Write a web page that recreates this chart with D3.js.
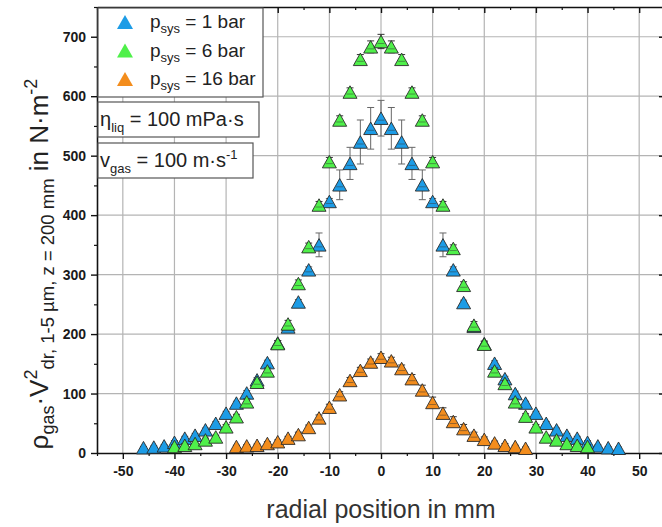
<!DOCTYPE html>
<html>
<head>
<meta charset="utf-8">
<script src="https://cdn.jsdelivr.net/npm/d3@7"></script>
<style>
  body { margin: 0; background: #fff; }
  svg { font-family: Arial, "Liberation Sans", sans-serif; }
</style>
</head>
<body>
<svg id="svg"></svg>
<script>
const width = 662, height = 527;

// radial positions in mm
const posBlue = [-46, -44, -42, -40, -38, -36, -34, -32, -30, -28, -26, -24, -22, -20, -18, -16, -14, -12, -10, -8, -6, -4, -2, 0,
    2, 4, 6, 8, 10, 12, 14, 16, 18, 20, 22, 24, 26, 28, 30, 32, 34, 36, 38, 40, 42, 44, 46];
const posGreen = [-40, -38, -36, -34, -32, -30, -28, -26, -24, -22, -20, -18, -16, -14, -12, -10, -8, -6, -4, -2, 0,
    2, 4, 6, 8, 10, 12, 14, 16, 18, 20, 22, 24, 26, 28, 30, 32, 34, 36, 38, 40];
const posOrange = [-28, -26, -24, -22, -20, -18, -16, -14, -12, -10, -8, -6, -4, -2, 0,
    2, 4, 6, 8, 10, 12, 14, 16, 18, 20, 22, 24, 26, 28];

// p_sys = 1 bar
const valBlue = [9, 10, 12, 18, 25, 30, 39, 50, 67, 84, 101, 123, 152, 185, 212, 254, 308, 350, 423, 451, 487, 523, 546, 563,
    546, 523, 487, 451, 423, 350, 308, 253, 213, 184, 151, 125, 100, 84, 67, 50, 39, 30, 25, 18, 12, 9, 8];
const errBlue = [2, 2, 2, 3, 3, 3, 3, 3, 3, 3, 4, 4, 4, 4, 4, 4, 5, 20, 5, 25, 27, 37, 35, 30,
    35, 37, 27, 25, 5, 20, 5, 4, 4, 4, 4, 4, 4, 3, 3, 3, 3, 3, 3, 3, 2, 2, 2];
// p_sys = 6 bar
const valGreen = [11, 13, 16, 22, 27, 44, 61, 86, 119, 138, 184, 217, 285, 347, 417, 490, 560, 607, 662, 683, 692,
    683, 662, 607, 560, 490, 417, 344, 282, 215, 183, 138, 117, 86, 62, 44, 27, 22, 16, 13, 11];
const errGreen = [3, 3, 3, 3, 3, 4, 4, 5, 5, 5, 5, 6, 6, 6, 6, 7, 7, 7, 8, 10, 12,
    10, 8, 7, 7, 7, 6, 6, 6, 6, 5, 5, 5, 5, 4, 4, 3, 3, 3, 3, 3];
// p_sys = 16 bar
const valOrange = [11, 12, 13, 16, 19, 25, 31, 43, 59, 77, 98, 122, 139, 153, 161,
    155, 142, 125, 106, 85, 67, 53, 41, 30, 23, 17, 13, 11, 8];
const errOrange = [2, 2, 2, 3, 3, 3, 4, 4, 5, 5, 5, 5, 5, 5, 6,
    6, 6, 7, 8, 9, 9, 8, 7, 5, 4, 3, 3, 2, 2];

const xTicks = [-50, -40, -30, -20, -10, 0, 10, 20, 30, 40, 50];
const yTicks = [0, 100, 200, 300, 400, 500, 600, 700];

const series = [
    { name: "1 bar", pos: posBlue, val: valBlue, err: errBlue, fill: "#1d9ce6", bar: "#666" },
    { name: "6 bar", pos: posGreen, val: valGreen, err: errGreen, fill: "#4ff04a", bar: "#333" },
    { name: "16 bar", pos: posOrange, val: valOrange, err: errOrange, fill: "#f38d1d", bar: "#333" }
];

const plot = { left: 97, right: 665, top: 7, bottom: 453 };

const x = d3.scaleLinear().domain([-55, 55]).range([plot.left, plot.right]);
const y = d3.scaleLinear().domain([0, 750]).range([plot.bottom, plot.top]);

const svg = d3.select("#svg").attr("width", width).attr("height", height);

// grid
svg.append("g").selectAll("line")
    .data(xTicks)
    .enter().append("line")
    .attr("x1", d => x(d)).attr("x2", d => x(d))
    .attr("y1", plot.top).attr("y2", plot.bottom)
    .style("stroke", "#b4b4b4").style("stroke-width", 1.2);
svg.append("g").selectAll("line")
    .data(yTicks.slice(1))
    .enter().append("line")
    .attr("x1", plot.left).attr("x2", plot.right)
    .attr("y1", d => y(d)).attr("y2", d => y(d))
    .style("stroke", "#b4b4b4").style("stroke-width", 1.2);

// axes
const minorX = d3.range(-55, 56, 5).filter(d => d % 10 !== 0);
const minorY = d3.range(50, 751, 100);
const plain = d => String(d);

function styleAxis(g) {
    g.select(".domain").style("stroke", "#111").style("stroke-width", 1.6);
    g.selectAll(".tick line").style("stroke", "#111").style("stroke-width", 1.4);
    g.selectAll(".tick text")
        .style("font-size", "14px").style("font-weight", "bold").style("fill", "#1a1a1a");
}

function minor(g, gen) {
    g.call(gen).call(a => a.select(".domain").remove())
        .selectAll("line").style("stroke", "#111").style("stroke-width", 1.2);
}

const bottomAxis = svg.append("g")
    .attr("transform", `translate(0,${plot.bottom})`)
    .call(d3.axisBottom(x).tickValues(xTicks).tickFormat(plain).tickSize(6).tickPadding(6).tickSizeOuter(0));
styleAxis(bottomAxis);
bottomAxis.selectAll(".tick text").attr("dy", "0.75em");
minor(svg.append("g").attr("transform", `translate(0,${plot.bottom})`),
    d3.axisBottom(x).tickValues(minorX).tickSize(3).tickFormat("").tickSizeOuter(0));

const topAxis = svg.append("g")
    .attr("transform", `translate(0,${plot.top})`)
    .call(d3.axisBottom(x).tickValues(xTicks).tickSize(6).tickFormat("").tickSizeOuter(0));
styleAxis(topAxis);
minor(svg.append("g").attr("transform", `translate(0,${plot.top})`),
    d3.axisBottom(x).tickValues(minorX).tickSize(3).tickFormat("").tickSizeOuter(0));

const leftAxis = svg.append("g")
    .attr("transform", `translate(${plot.left},0)`)
    .call(d3.axisLeft(y).tickValues(yTicks).tickFormat(plain).tickSize(6).tickPadding(5).tickSizeOuter(0));
styleAxis(leftAxis);
minor(svg.append("g").attr("transform", `translate(${plot.left},0)`),
    d3.axisLeft(y).tickValues(minorY).tickSize(3).tickFormat("").tickSizeOuter(0));

const rightAxis = svg.append("g")
    .attr("transform", `translate(${plot.right},0)`)
    .call(d3.axisLeft(y).tickValues(yTicks).tickSize(6).tickFormat("").tickSizeOuter(0));
styleAxis(rightAxis);
minor(svg.append("g").attr("transform", `translate(${plot.right},0)`),
    d3.axisLeft(y).tickValues(minorY).tickSize(3).tickFormat("").tickSizeOuter(0));

// markers: triangle centred on its bounding box
const triW = 14, triH = 12.5;
const triPath = `M0,${-triH / 2}L${triW / 2},${triH / 2}L${-triW / 2},${triH / 2}Z`;

series.forEach(s => {
    const pts = s.pos.map((p, i) => ({ p: p, v: s.val[i], e: s.err[i] }));
    const g = svg.append("g");
    const bars = g.selectAll("g.err").data(pts).enter().append("g")
        .style("stroke", s.bar).style("stroke-width", 1);
    bars.append("line")
        .attr("x1", d => x(d.p)).attr("x2", d => x(d.p))
        .attr("y1", d => y(d.v + d.e)).attr("y2", d => y(d.v - d.e));
    bars.append("line")
        .attr("x1", d => x(d.p) - 3.5).attr("x2", d => x(d.p) + 3.5)
        .attr("y1", d => y(d.v + d.e)).attr("y2", d => y(d.v + d.e));
    bars.append("line")
        .attr("x1", d => x(d.p) - 3.5).attr("x2", d => x(d.p) + 3.5)
        .attr("y1", d => y(d.v - d.e)).attr("y2", d => y(d.v - d.e));
    g.selectAll("path").data(pts).enter().append("path")
        .attr("d", triPath)
        .attr("transform", d => `translate(${x(d.p)},${y(d.v)})`)
        .style("fill", s.fill).style("stroke", "#2a2a2a").style("stroke-width", 0.9);
    // short dash of the error bar seen through the marker
    g.selectAll("line.in").data(pts.filter(d => d.e > 4)).enter().append("line")
        .attr("x1", d => x(d.p) - 3.5).attr("x2", d => x(d.p) + 3.5)
        .attr("y1", d => y(d.v) + 2).attr("y2", d => y(d.v) + 2)
        .style("stroke", "#333").style("stroke-width", 0.8).style("opacity", 0.6);
});

// legend box
const lg = svg.append("g");
lg.append("rect").attr("x", 98).attr("y", 8).attr("width", 165).attr("height", 89)
    .style("fill", "#fff").style("stroke", "#555").style("stroke-width", 1.2);
series.forEach((s, i) => {
    const cy = 22 + i * 28.5;
    lg.append("path").attr("d", "M0,-7L8,7L-8,7Z").attr("transform", `translate(125,${cy})`)
        .style("fill", s.fill).style("stroke", "none");
    const t = lg.append("text").attr("x", 150).attr("y", cy + 6)
        .style("font-size", "19px").style("fill", "#222");
    t.append("tspan").text("p");
    t.append("tspan").attr("dy", 5).style("font-size", "13px").text("sys");
    t.append("tspan").attr("dy", -5).text(" = " + s.name);
});

// parameter boxes
function paramBox(yTop, w, main, sub, rest, sup) {
    svg.append("rect").attr("x", 98).attr("y", yTop).attr("width", w).attr("height", 35)
        .style("fill", "#fff").style("stroke", "#555").style("stroke-width", 1.2);
    const t = svg.append("text").attr("x", 100).attr("y", yTop + 24)
        .style("font-size", "20px").style("fill", "#222");
    t.append("tspan").text(main);
    t.append("tspan").attr("dy", 6).style("font-size", "13px").text(sub);
    t.append("tspan").attr("dy", -6).text(rest);
    if (sup) t.append("tspan").attr("dy", -8).style("font-size", "13px").text(sup);
}
paramBox(102, 161, "η", "liq", " = 100 mPa·s", null);
paramBox(143, 155, "v", "gas", " = 100 m·s", "-1");

// x label
svg.append("text")
    .attr("x", x(0)).attr("y", 518)
    .attr("text-anchor", "middle")
    .style("font-size", "25px").style("fill", "#333")
    .text("radial position in mm");

// y label
const yl = svg.append("text")
    .attr("transform", "translate(48,264) rotate(-90)")
    .attr("text-anchor", "middle")
    .style("font-size", "26px").style("fill", "#222");
yl.append("tspan").text("ρ");
yl.append("tspan").attr("dy", 6).style("font-size", "18px").text("gas");
yl.append("tspan").attr("dy", -6).text("·V");
yl.append("tspan").attr("dy", -11).style("font-size", "18px").text("2");
yl.append("tspan").attr("dy", 17).style("font-size", "18.5px").text("dr, 1-5 µm, z = 200 mm");
yl.append("tspan").attr("dy", -6).text(" in N·m");
yl.append("tspan").attr("dy", -11).style("font-size", "18px").text("-2");
</script>
</body>
</html>
